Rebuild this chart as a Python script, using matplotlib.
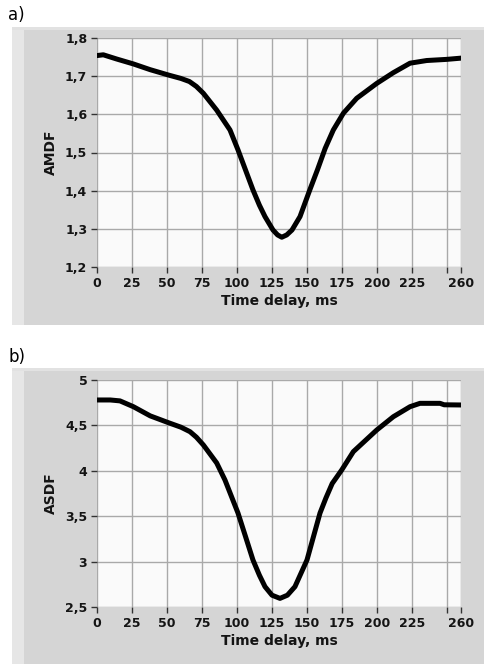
"""
AMDF / ASDF versus time delay, two LabVIEW-style panels.
"""
import matplotlib
matplotlib.use("Agg")
import matplotlib.pyplot as plt
from matplotlib.patches import Rectangle

# --- Data ---
delay_a = [0, 4.5, 14, 26, 38, 51, 60, 66, 71, 76, 85.5, 95, 100.7, 106, 111.4,
           116, 120, 125.7, 129, 132, 135.5, 139.3, 145, 152, 157.5, 163, 168.8,
           176, 185.5, 199.8, 211.6, 223.6, 235.5, 249.8, 259.3]
amdf = [1.754, 1.756, 1.745, 1.732, 1.717, 1.703, 1.694, 1.686, 1.673, 1.655,
        1.611, 1.559, 1.507, 1.455, 1.402, 1.362, 1.332, 1.297, 1.284, 1.278,
        1.284, 1.297, 1.332, 1.402, 1.455, 1.511, 1.559, 1.603, 1.642, 1.681,
        1.709, 1.734, 1.741, 1.744, 1.747]

delay_b = [0, 9.5, 16.4, 26, 38, 51, 60, 66.4, 71, 76, 85.5, 91.4, 100.7, 106,
           111.4, 116, 120, 125, 130.7, 136, 141.4, 150, 159.3, 163.5, 168,
           174.8, 183.1, 199.8, 211.7, 223.6, 230.7, 245, 248, 259.3]
asdf = [4.780, 4.780, 4.770, 4.706, 4.605, 4.530, 4.480, 4.431, 4.370, 4.284,
        4.086, 3.899, 3.535, 3.280, 3.018, 2.850, 2.724, 2.630, 2.595, 2.630,
        2.724, 3.018, 3.535, 3.700, 3.860, 4.009, 4.211, 4.449, 4.596, 4.706,
        4.743, 4.743, 4.727, 4.725]

x_ticks = [0, 25, 50, 75, 100, 125, 150, 175, 200, 225, 250, 260]
x_tick_labels = ["0", "25", "50", "75", "100", "125", "150", "175", "200", "225", "", "260"]
ya_ticks = [1.2, 1.3, 1.4, 1.5, 1.6, 1.7, 1.8]
ya_labels = ["1,2", "1,3", "1,4", "1,5", "1,6", "1,7", "1,8"]
yb_ticks = [2.5, 3, 3.5, 4, 4.5, 5]
yb_labels = ["2,5", "3", "3,5", "4", "4,5", "5"]

W, H = 484, 664
fig = plt.figure(figsize=(W / 100, H / 100), dpi=100)

FRAME = "#d5d5d5"
TXT = "#141414"


def frame(y0, y1):
    # gray LabVIEW panel, pixel coords from top
    for x, w, h, c, top in [(12, W - 12, y1 - y0, FRAME, y1),
                            (12, 12, y1 - y0, "#e6e6e6", y1),
                            (12, W - 12, 3, "#e2e2e2", y0 + 3)]:
        fig.patches.append(Rectangle((x / W, 1 - top / H), w / W, h / H,
                                     transform=fig.transFigure, facecolor=c,
                                     edgecolor="none", zorder=-5))


def panel(rect, x, y, yticks, ylabels, ylim, ylabel):
    ax = fig.add_axes(rect)
    ax.set_zorder(2)
    ax.set_facecolor("#fafafa")
    ax.plot(x, y, color="black", linewidth=3.6, solid_joinstyle="round", zorder=3)
    ax.set_xlim(0, 260)
    ax.set_ylim(*ylim)
    ax.set_xticks(x_ticks)
    ax.set_xticklabels(x_tick_labels)
    ax.set_yticks(yticks)
    ax.set_yticklabels(ylabels)
    for s in ax.spines.values():
        s.set_visible(False)
    ax.grid(True, color="#a9a9a9", linewidth=1.0)
    ax.tick_params(axis="both", length=4, width=1, color="#333333",
                   labelsize=9, labelcolor=TXT, pad=3)
    for lab in ax.get_xticklabels() + ax.get_yticklabels():
        lab.set_fontweight("bold")
    ax.set_xlabel("Time delay, ms", fontsize=10, fontweight="bold", color=TXT, labelpad=3)
    ax.set_ylabel(ylabel, fontsize=10, fontweight="bold", color=TXT, labelpad=5)
    return ax


frame(27, 325)
frame(368, 664)

panel([97 / W, 1 - 267 / H, 364 / W, 229 / H], delay_a, amdf,
      ya_ticks, ya_labels, (1.2, 1.8), "AMDF")
panel([97 / W, 1 - 607 / H, 364 / W, 227 / H], delay_b, asdf,
      yb_ticks, yb_labels, (2.5, 5), "ASDF")

fig.text(8 / W, 1 - 15 / H, "a)", fontsize=12, va="center", ha="left")
fig.text(8 / W, 1 - 357 / H, "b)", fontsize=12, va="center", ha="left")

fig.savefig("out.png", dpi=100)
